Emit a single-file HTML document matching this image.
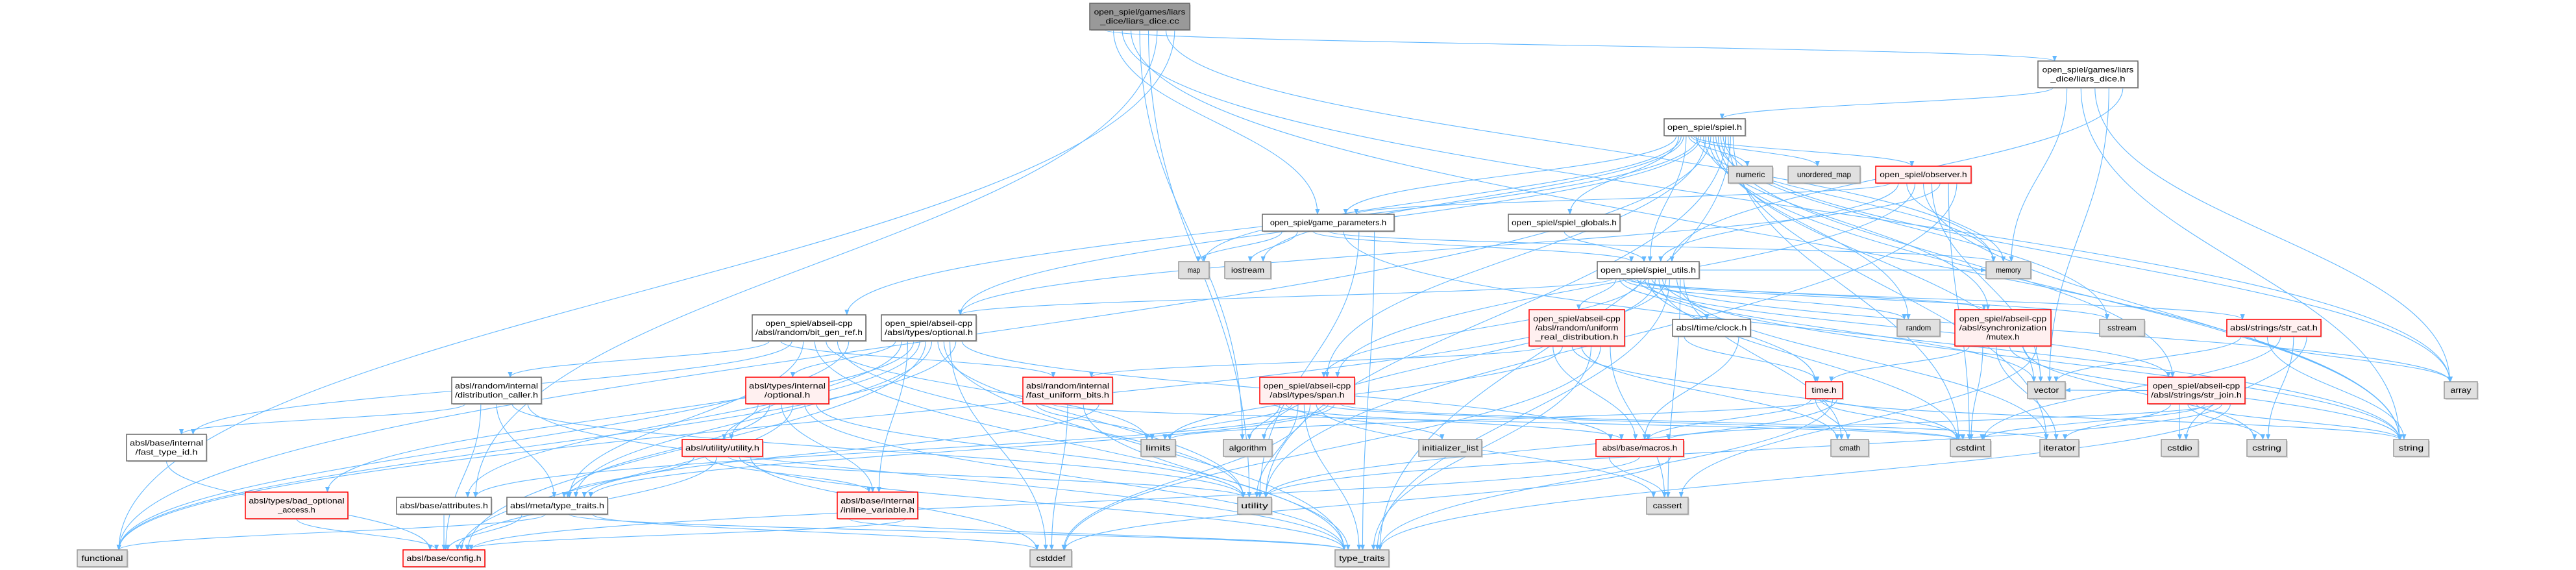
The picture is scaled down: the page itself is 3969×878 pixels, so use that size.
<!DOCTYPE html>
<html><head><meta charset="utf-8"><style>
html,body{margin:0;padding:0;background:#fff;}
svg{display:block;}
text{font-family:"Liberation Sans",Arial,sans-serif;font-size:12px;fill:#000;}
</style></head><body>
<svg id="g" width="3969" height="878" viewBox="0 0 3969 878" xmlns="http://www.w3.org/2000/svg">
<defs><marker id="a" viewBox="0 0 10 10" refX="9" refY="5" markerWidth="9" markerHeight="9" orient="auto" markerUnits="userSpaceOnUse"><path d="M0,1 L10,5 L0,9 z" fill="#63b8ff"/></marker></defs>
<g id="edges" fill="none" stroke="#63b8ff" stroke-width="1.1"></g>
<g id="nodes"></g>
</svg>
<script>
var N=[
["open_spiel/games/liars|_dice/liars_dice.cc",1679,5,154,41,"root"],
["open_spiel/games/liars|_dice/liars_dice.h",3140,94,154,41,"w"],
["open_spiel/spiel.h",2564,183,125,26,"w"],
["open_spiel/game_parameters.h",1945,330,203,26,"w"],
["open_spiel/spiel_globals.h",2324,330,172,26,"w"],
["map",1816,403,47,26,"g"],
["iostream",1887,403,71,26,"g"],
["open_spiel/spiel_utils.h",2461,403,157,26,"w"],
["numeric",2663,256,68,26,"g"],
["unordered_map",2755,256,111,26,"g"],
["open_spiel/observer.h",2890,256,147,26,"r"],
["memory",3060,403,69,26,"g"],
["open_spiel/abseil-cpp|/absl/random/bit_gen_ref.h",1159,485,175,40,"w"],
["open_spiel/abseil-cpp|/absl/types/optional.h",1358,485,146,40,"w"],
["open_spiel/abseil-cpp|/absl/random/uniform|_real_distribution.h",2356,477,147,56,"r"],
["absl/time/clock.h",2577,492,120,26,"w"],
["random",2923,492,66,26,"g"],
["open_spiel/abseil-cpp|/absl/synchronization|/mutex.h",3012,477,148,56,"r"],
["sstream",3235,492,69,26,"g"],
["absl/strings/str_cat.h",3431,492,145,26,"r"],
["absl/random/internal|/distribution_caller.h",696,581,138,41,"w"],
["absl/types/internal|/optional.h",1149,581,128,41,"r"],
["absl/random/internal|/fast_uniform_bits.h",1576,581,138,41,"r"],
["open_spiel/abseil-cpp|/absl/types/span.h",1941,581,146,41,"r"],
["time.h",2782,588,57,26,"r"],
["vector",3124,588,58,26,"g"],
["open_spiel/abseil-cpp|/absl/strings/str_join.h",3309,581,150,41,"r"],
["array",3766,588,51,26,"g"],
["absl/base/internal|/fast_type_id.h",195,669,123,41,"w"],
["absl/utility/utility.h",1051,677,124,26,"r"],
["limits",1758,677,53,26,"g"],
["algorithm",1885,677,75,26,"g"],
["initializer_list",2186,677,97,26,"g"],
["absl/base/macros.h",2459,677,135,26,"r"],
["cmath",2821,677,58,26,"g"],
["cstdint",3005,677,62,26,"g"],
["iterator",3143,677,60,26,"g"],
["cstdio",3330,677,57,26,"g"],
["cstring",3462,677,61,26,"g"],
["string",3688,677,54,26,"g"],
["absl/types/bad_optional|_access.h",378,758,158,41,"r"],
["absl/base/attributes.h",611,766,146,26,"w"],
["absl/meta/type_traits.h",781,766,155,26,"w"],
["absl/base/internal|/inline_variable.h",1290,758,124,41,"r"],
["utility",1907,766,52,26,"g"],
["cassert",2537,766,64,26,"g"],
["functional",119,847,77,26,"g"],
["absl/base/config.h",621,847,126,26,"r"],
["cstddef",1587,847,64,26,"g"],
["type_traits",2057,847,83,26,"g"]
];
var E={0:[1,3,27,39,31,44,41,11,46],1:[2,11,39,27,25,7],
2:[3,4,5,6,7,8,9,10,11,12,13,17,23,39,46,16,18,25,26,27,44,36,49,35],
3:[5,6,7,11,39,44,49],4:[7],10:[3,7,11,23,39,25,13,35,44],
7:[13,14,15,16,17,18,19,26,23,25,24,27,31,35,39,46,49,11,36,45,34],
12:[20,22,28,42,49,30,44,46],13:[21,29,43,40,41,47,42,44,49,48,46,33],
14:[22,33,30,35,34,49,48,45],15:[24,33],17:[24,35,36,39,38,45],
19:[25,27,39,35,38,37],20:[28,47,42,44,49],21:[29,42,43,47,49,44],
22:[30,35,48,49,42],23:[33,31,32,30,44,49,48,45,35,41,42,36],
24:[33,34,35,39,30,49,44],26:[25,36,37,38,39,35,33,44,49],28:[47],
29:[42,43,47,44,49,48],33:[45,47,48],40:[47],41:[47],42:[47,46,49,48],43:[49,47]};
var ns="http://www.w3.org/2000/svg";
var eg=document.getElementById("edges"),ng=document.getElementById("nodes");
function el(t,a,p){var e=document.createElementNS(ns,t);for(var k in a)e.setAttribute(k,a[k]);p.appendChild(e);return e;}
for(var s in E){var S=N[s];var L=E[s];var cnt=L.length;
L.forEach(function(t,i){var T=N[t];
 var sx,sy,tx,ty,d;
 var scx=S[1]+S[3]/2,tcx=T[1]+T[3]/2;
 if(T[2]>S[2]+S[4]-2){
   sx=S[1]+S[3]*(0.15+0.7*(cnt>1?i/(cnt-1):0.5));
   sy=S[2]+S[4];
   tx=tcx+Math.max(-T[3]/3,Math.min(T[3]/3,(sx-tcx)*0.05));ty=T[2];
   var dy=ty-sy;
   d="M"+sx+","+sy+" C"+sx+","+(sy+dy*0.45)+" "+tx+","+(ty-dy*0.45)+" "+tx+","+ty;
 } else {
   sy=S[2]+S[4]/2;ty=T[2]+T[4]/2;
   if(tcx<scx){sx=S[1];tx=T[1]+T[3];}else{sx=S[1]+S[3];tx=T[1];}
   d="M"+sx+","+sy+" C"+((sx+tx)/2)+","+sy+" "+((sx+tx)/2)+","+ty+" "+tx+","+ty;
 }
 el("path",{d:d,"marker-end":"url(#a)"},eg);
});}
N.forEach(function(n){var f,st;
 if(n[5]=="root"){f="#999999";st="#666666";}
 else if(n[5]=="w"){f="#ffffff";st="#666666";}
 else if(n[5]=="g"){f="#e0e0e0";st="#999999";}
 else {f="#fff0f0";st="#ff0000";}
 el("rect",{x:n[1]+2,y:n[2]+2,width:n[3],height:n[4],fill:"#bbbbbb",opacity:"0.5"},ng);
 el("rect",{x:n[1],y:n[2],width:n[3],height:n[4],fill:f,stroke:st,"stroke-width":"1.5"},ng);
 var lines=n[0].split("|");var lh=14;var y0=n[2]+n[4]/2-(lines.length-1)*lh/2+4;
 lines.forEach(function(l,i){var w=Math.min(n[3]-10,l.length*6.4);
  var t=el("text",{x:n[1]+n[3]/2,y:y0+i*lh,"text-anchor":"middle",textLength:w,lengthAdjust:"spacingAndGlyphs"},ng);
  t.textContent=l;});
});
</script>
</body></html>
